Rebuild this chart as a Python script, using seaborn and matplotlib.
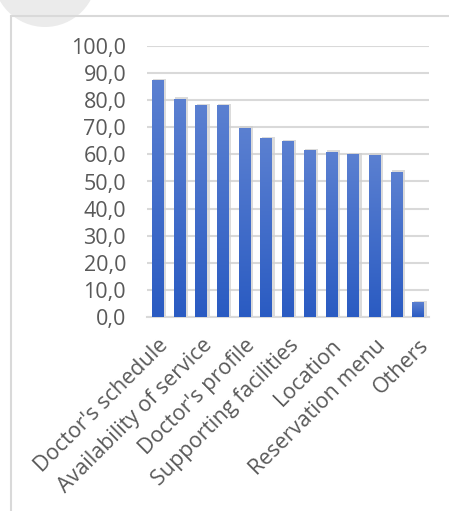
import numpy as np
import pandas as pd
import matplotlib
matplotlib.use("Agg")
import matplotlib.pyplot as plt
from matplotlib.lines import Line2D
from matplotlib.patches import Ellipse
from matplotlib.colors import LinearSegmentedColormap
import seaborn as sns

# ---- data ----
values = [87.4, 80.4, 78.1, 78.1, 69.7, 65.9, 64.8, 61.5, 61.0, 60.1, 59.8, 53.5, 5.4]
tick_labels = ["Doctor's schedule", "Availability of service", "Doctor's profile",
               "Supporting facilities", "Location", "Reservation menu", "Others"]
y_ticks = [0, 10, 20, 30, 40, 50, 60, 70, 80, 90, 100]

sns.set_theme(style="white")
plt.rcParams['font.family'] = ['Open Sans', 'DejaVu Sans']

W, H = 449, 511
fig = plt.figure(figsize=(W / 100, H / 100), dpi=100)
ax = fig.add_axes([147 / W, 1 - 317 / H, (429 - 147) / W, (317 - 46) / H])

df = pd.DataFrame({"idx": list(range(len(values))), "val": values})
sns.barplot(data=df, x="idx", y="val", color="#3b69c6", width=0.54,
            ax=ax, zorder=3, saturation=1)

# gradient fill for bars
grad = np.linspace(0, 1, 256).reshape(-1, 1)
cmap = LinearSegmentedColormap.from_list("g", ["#2a5bc2", "#5b80d1"])
for p in list(ax.patches):
    x0, y0 = p.get_x(), p.get_y()
    w, h = p.get_width(), p.get_height()
    ax.bar(x0 + w / 2 + 0.09, h + 0.6, width=w + 0.06, bottom=0, color="#cfcfcf",
           alpha=0.75, zorder=2, linewidth=0)
    p.set_facecolor("none")
    p.set_edgecolor("none")
    im = ax.imshow(grad, extent=[x0, x0 + w, y0, y0 + h], origin="lower",
                   cmap=cmap, aspect="auto", zorder=4)
    im.set_clip_path(p)

ax.set_xlim(-0.5, len(values) - 0.5)
ax.set_ylim(0, 100)
ax.set_yticks(y_ticks)
ax.set_yticklabels([f"{v:.1f}".replace(".", ",") for v in y_ticks])
ax.set_xticks(list(range(0, len(values), 2)))
ax.set_xticklabels(tick_labels, rotation=45, ha="right", rotation_mode="anchor")
ax.tick_params(axis="y", length=0, pad=15, labelsize=15.5, labelcolor="#595959")
ax.tick_params(axis="x", length=0, pad=13, labelsize=15.5, labelcolor="#595959")
ax.set_xlabel("")
ax.set_ylabel("")
ax.yaxis.grid(True, color="#d9d9d9", linewidth=1.5, zorder=0)
ax.set_axisbelow(True)
for s in ["top", "right", "left"]:
    ax.spines[s].set_visible(False)
ax.spines["bottom"].set_color("#d9d9d9")
ax.spines["bottom"].set_linewidth(1.5)

# decorative outer frame and blob
fig.patches.append(Ellipse((45 / W, 1 + 25 / H), 2 * 52 / W, 2 * 52 / H,
                           transform=fig.transFigure, facecolor="#ebebeb",
                           edgecolor="none", zorder=0))
fig.lines.append(Line2D([11 / W, 11 / W], [0, 1 - 16 / H], transform=fig.transFigure,
                        color="#d9d9d9", linewidth=1.5))
fig.lines.append(Line2D([11 / W, 1], [1 - 16 / H, 1 - 16 / H], transform=fig.transFigure,
                        color="#d9d9d9", linewidth=1.5))

fig.savefig("out.png", dpi=100)
